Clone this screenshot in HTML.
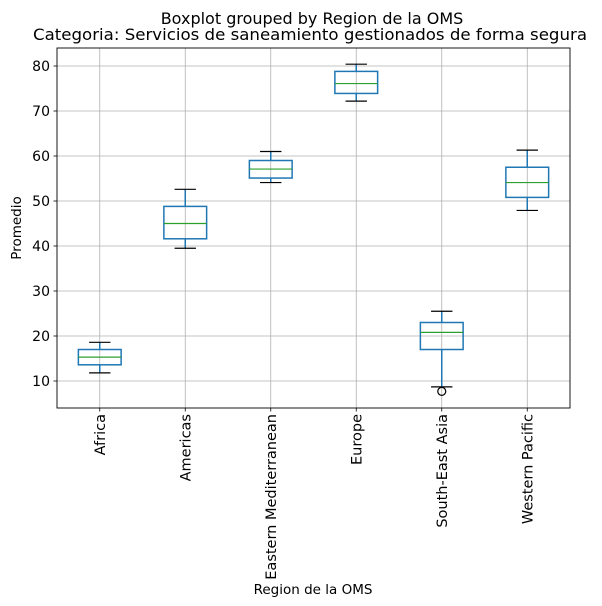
<!DOCTYPE html>
<html><head><meta charset="utf-8"><style>
html,body{margin:0;padding:0;background:#fff;}
svg{display:block;font-family:"DejaVu Sans","Liberation Sans",sans-serif;}
</style></head><body>
<svg id="chart" width="602" height="606">
<rect width="602" height="606" fill="#fff"/>
<text x="312" y="24" font-size="16" text-anchor="middle">Boxplot grouped by Region de la OMS</text>
<text x="310" y="40" font-size="16" text-anchor="middle" textLength="554" lengthAdjust="spacingAndGlyphs">Categoria: Servicios de saneamiento gestionados de forma segura</text>
<g id="grid"></g><g id="boxes"></g><g id="axes"></g>
<text x="313" y="594" font-size="13.5" text-anchor="middle">Region de la OMS</text>
<text transform="translate(21,228) rotate(-90)" font-size="13.5" text-anchor="middle">Promedio</text>
</svg>
<script>
const categories=["Africa","Americas","Eastern Mediterranean","Europe","South-East Asia","Western Pacific"];
const whiskerLow=[11.8,39.5,54.1,72.2,8.7,47.9];
const q1=[13.6,41.6,55.1,73.9,17.0,50.8];
const median=[15.3,45.0,57.1,76.1,20.8,54.1];
const q3=[17.0,48.8,59.0,78.8,23.0,57.5];
const whiskerHigh=[18.6,52.6,61.0,80.4,25.5,61.3];
const outliers=[[],[],[],[],[7.7],[]];
const yTicks=[10,20,30,40,50,60,70,80];
const L=57,R=570,T=48,B=408,yMin=4,yMax=84;
const NS="http://www.w3.org/2000/svg";
function y(v){return B-(v-yMin)/(yMax-yMin)*(B-T);}
function x(i){return L+(i+0.5)*(R-L)/categories.length;}
function mk(p,tag,at){const e=document.createElementNS(NS,tag);for(const k in at)e.setAttribute(k,at[k]);p.appendChild(e);return e;}
const grid=document.getElementById('grid'),boxes=document.getElementById('boxes'),axes=document.getElementById('axes');
const bw=(R-L)/categories.length*0.25,cw=bw/2;
yTicks.forEach(t=>{
 const g=mk(grid,'line',{x1:L,x2:R,y1:y(t),y2:y(t),stroke:'#b0b0b0','stroke-width':0.8});
 
 
 mk(axes,'line',{x1:L-3.5,x2:L,y1:y(t),y2:y(t),stroke:'#000','stroke-width':0.8});
 const tx=mk(axes,'text',{x:L-7,y:y(t)+5,'font-size':14,'text-anchor':'end'});
 tx.textContent=t;
 
 
});
categories.forEach((c,i)=>{
 const cx=x(i);
 const g=mk(grid,'line',{x1:cx,x2:cx,y1:T,y2:B,stroke:'#b0b0b0','stroke-width':0.8});
 
 
 const bg=mk(boxes,'g',{});
 
 
 mk(bg,'line',{x1:cx,x2:cx,y1:y(q1[i]),y2:y(whiskerLow[i]),stroke:'#1f77b4','stroke-width':1.5});
 mk(bg,'line',{x1:cx,x2:cx,y1:y(q3[i]),y2:y(whiskerHigh[i]),stroke:'#1f77b4','stroke-width':1.5});
 mk(bg,'line',{x1:cx-cw,x2:cx+cw,y1:y(whiskerLow[i]),y2:y(whiskerLow[i]),stroke:'#000','stroke-width':1.2});
 mk(bg,'line',{x1:cx-cw,x2:cx+cw,y1:y(whiskerHigh[i]),y2:y(whiskerHigh[i]),stroke:'#000','stroke-width':1.2});
 mk(bg,'rect',{x:cx-bw,y:y(q3[i]),width:2*bw,height:y(q1[i])-y(q3[i]),fill:'none',stroke:'#1f77b4','stroke-width':1.5});
 mk(bg,'line',{x1:cx-bw,x2:cx+bw,y1:y(median[i]),y2:y(median[i]),stroke:'#2ca02c','stroke-width':1.2});
 outliers[i].forEach(o=>{
  const oc=mk(bg,'circle',{cx:cx,cy:y(o),r:4,fill:'none',stroke:'#000','stroke-width':1.2});
  
  
 });
 mk(axes,'line',{x1:cx,x2:cx,y1:B,y2:B+3.5,stroke:'#000','stroke-width':0.8});
 const tx=mk(axes,'text',{transform:`translate(${cx+5},${B+6}) rotate(-90)`,'font-size':14.5,'text-anchor':'end'});
 tx.textContent=c;
 
 
});
const fr=mk(axes,'rect',{x:L,y:T,width:R-L,height:B-T,fill:'none',stroke:'#000','stroke-width':0.9});


</script>
</body></html>
